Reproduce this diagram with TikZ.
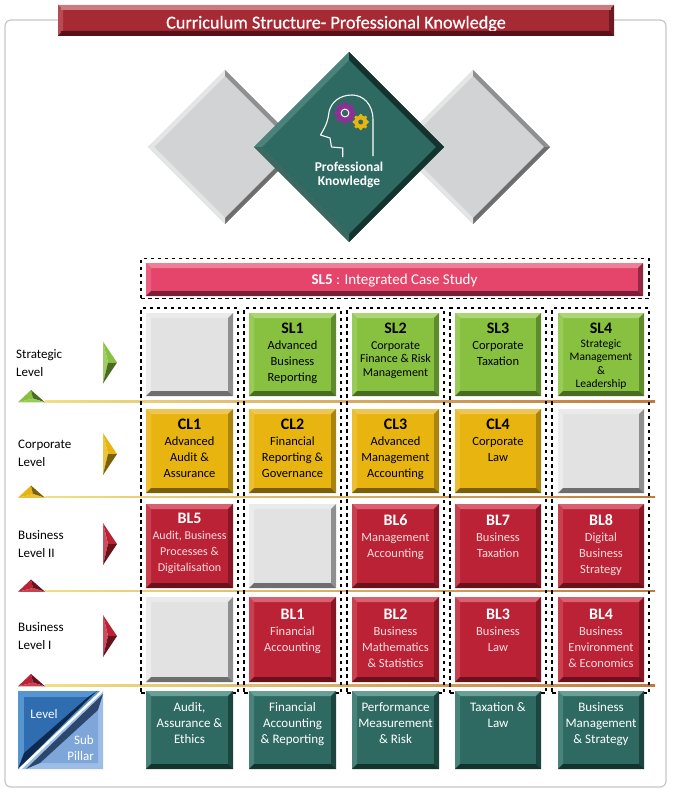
\documentclass[tikz,border=0pt]{standalone}
\usepackage{fontspec}
\setmainfont{Carlito}
\definecolor{greenM}{HTML}{88C140}\definecolor{greenT}{HTML}{ABD673}\definecolor{greenL}{HTML}{98CB58}\definecolor{greenR}{HTML}{5F8A2E}\definecolor{greenB}{HTML}{4A6C22}
\definecolor{yelM}{HTML}{E8B40F}\definecolor{yelT}{HTML}{EDC655}\definecolor{yelL}{HTML}{EDBF30}\definecolor{yelR}{HTML}{A9840F}\definecolor{yelB}{HTML}{7B600B}
\definecolor{redM}{HTML}{BC2236}\definecolor{redT}{HTML}{D9606F}\definecolor{redL}{HTML}{C9414F}\definecolor{redR}{HTML}{861825}\definecolor{redB}{HTML}{6A121C}
\definecolor{grayM}{HTML}{E2E2E2}\definecolor{grayT}{HTML}{EAEAEA}\definecolor{grayL}{HTML}{ECECEC}\definecolor{grayR}{HTML}{8F8F8F}\definecolor{grayB}{HTML}{6E6E6E}
\definecolor{grayD}{HTML}{D2D3D4}\definecolor{grayE}{HTML}{E4E5E5}
\definecolor{tealM}{HTML}{2E6A62}\definecolor{tealT}{HTML}{68A098}\definecolor{tealL}{HTML}{4A8379}\definecolor{tealR}{HTML}{1D4540}\definecolor{tealB}{HTML}{14332F}
\definecolor{pinkM}{HTML}{E6456B}\definecolor{pinkT}{HTML}{EE7F97}\definecolor{pinkL}{HTML}{EA5F80}\definecolor{pinkR}{HTML}{8F2A42}\definecolor{pinkB}{HTML}{7A2036}
\definecolor{titleM}{HTML}{A62A34}\definecolor{titleT}{HTML}{CB7A80}\definecolor{titleL}{HTML}{B84A54}\definecolor{titleR}{HTML}{6E1A22}\definecolor{titleB}{HTML}{561218}
\definecolor{soft}{HTML}{F6DEDE}
\definecolor{lineY}{HTML}{F0DF85}\definecolor{lineM}{HTML}{E8CC62}\definecolor{lineO}{HTML}{C07A3C}
\definecolor{blA}{HTML}{2F6CB0}\definecolor{blB}{HTML}{5595D0}\definecolor{blC}{HTML}{0F2A50}\definecolor{blD}{HTML}{7FA6D8}\definecolor{blE}{HTML}{9DBDE6}\definecolor{blF}{HTML}{2C476E}
\definecolor{purp}{HTML}{8E2F96}
\tikzset{
  boxnode/.style={rectangle,inner sep=0pt,outer sep=0pt,draw=none},
  dashbox/.style={rectangle,inner sep=0pt,outer sep=0pt,draw=black,line width=1.1pt,dash pattern=on 3.5pt off 3.5pt},
  rowlabel/.style={anchor=west,inner sep=0pt,align=left,font=\fontsize{13}{18}\selectfont,text=black},
}
% name, x0,y0,x1,y1, colour, first baseline offset, content
\newcommand{\bbox}[8]{%
  \pgfmathsetmacro{\bw}{#4-#2}\pgfmathsetmacro{\bh}{#5-#3}%
  \node[boxnode,fill=#6M] (#1) at ({(#2+#4)/2},{(#3+#5)/2})
    {\parbox[c][\bh pt][t]{\bw pt}{\centering\rule{0pt}{#7pt}#8\par}};
  \fill[#6T] (#2,#3)--(#4,#3)--({#4-5},{#3+5})--({#2+5},{#3+5})--cycle;
  \fill[#6L] (#2,#3)--({#2+5},{#3+5})--({#2+5},{#5-5})--(#2,#5)--cycle;
  \fill[#6R] (#4,#3)--(#4,#5)--({#4-5},{#5-5})--({#4-5},{#3+5})--cycle;
  \fill[#6B] (#2,#5)--(#4,#5)--({#4-5},{#5-5})--({#2+5},{#5-5})--cycle;
}
% name, cx, cy, half diagonal, bevel, colours
\newcommand{\dia}[9]{%
  \node[boxnode] (#1) at (#2,#3) {};
  \fill[#6] (#2,{#3-#4})--({#2+#4},#3)--(#2,{#3+#4})--({#2-#4},#3)--cycle;
  \fill[#7] ({#2-#4},#3)--(#2,{#3-#4})--(#2,{#3-#4+#5})--({#2-#4+#5},#3)--cycle;
  \fill[#8] (#2,{#3-#4})--({#2+#4},#3)--({#2+#4-#5},#3)--(#2,{#3-#4+#5})--cycle;
  \fill[#9] ({#2+#4},#3)--(#2,{#3+#4})--(#2,{#3+#4-#5})--({#2+#4-#5},#3)--cycle;
}
\newcommand{\gear}[5]{%
  \fill[#4] (#1,#2) circle[radius=#3pt];
  \foreach \ga in {0,45,...,315}{\fill[#4] (#1,#2) ++(\ga:#3pt) circle[radius=#3*0.3pt];}
  \fill[#5] (#1,#2) circle[radius=#3*0.52pt];
  \fill[tealM] (#1,#2) circle[radius=#3*0.38pt];
}
% name, y, light, dark
\newcommand{\levelmark}[4]{%
  \coordinate (#1a) at (45,#2); \coordinate (#1b) at (655,#2);
  \shade[left color=lineY, middle color=lineM, right color=lineO] ([yshift=.7pt]#1a) rectangle ([yshift=-.7pt]#1b);
  \fill[#3] (18,{#2+.8})--(31,{#2-11.5})--(33,{#2-3})--cycle;
  \fill[#4] (31,{#2-11.5})--(45,{#2+.8})--(33,{#2-3})--cycle;
  \fill[#3!85!white] (18,{#2+.8})--(33,{#2-3})--(45,{#2+.8})--cycle;
}
\newcommand{\levelarrow}[4]{%
  \fill[#3] (103,{#2-21})--(117,#2)--(108,#2)--cycle;
  \fill[#3!80!white] (103,{#2-21})--(108,#2)--(103,{#2+21})--cycle;
  \fill[#4] (117,#2)--(103,{#2+21})--(108,#2)--cycle;
  \coordinate (#1) at (103,#2);
}
\newcommand{\fa}{\fontsize{12.5}{16}\selectfont}
\newcommand{\cd}[1]{{\fontsize{16}{16}\selectfont\bfseries #1}}
\begin{document}
\begin{tikzpicture}[x=1pt,y=-1pt]
\useasboundingbox (0,0) rectangle (672,789);
\fill[white] (0,0) rectangle (672,789);
\draw[black!22,line width=1.2pt,rounded corners=6pt] (5,20) rectangle (666,787);

% title
\bbox{title}{58}{5}{614}{36}{title}{23.5}{\fontsize{18.2}{20}\selectfont\color{white}\addfontfeature{FakeBold=0.6}Curriculum Structure- Professional Knowledge}
\fill[titleT] (61,5) rectangle (611,10.5);
\fill[titleB] (61,31) rectangle (611,36);

% diamonds
\dia{dl}{225}{147}{77}{6}{grayD}{grayE}{grayR}{grayB}
\fill[grayE] (148,147)--(225,224)--(225,218)--(154,147)--cycle;
\dia{dr}{473}{147}{77}{6}{grayD}{grayE}{grayR}{grayB}
\fill[grayE] (396,147)--(473,224)--(473,218)--(402,147)--cycle;
\dia{dc}{349}{147}{95}{8}{tealM}{tealL}{tealB}{tealB}
\fill[tealL!80!black] (254,147)--(349,242)--(349,234)--(262,147)--cycle;

% head icon
\draw[white,line width=1.1pt,line join=round] (373,156)--(373,120) .. controls (373,104) and (363,95) .. (352,95) .. controls (340,95) and (331,102) .. (329,112) .. controls (328,120) and (327,124) .. (320.5,135)--(330,138)--(331.5,147)--(342.7,148)--(342.7,157);
\gear{345}{113}{8.5}{purp}{white}
\gear{360.7}{122}{6.5}{yelM}{yelM}
\node[inner sep=0pt,align=center,text=white,font=\fontsize{13.5}{14}\selectfont\bfseries] (pk) at (349,175) {Professional\\Knowledge};

% integrated case study
\node[dashbox,minimum width=508pt,minimum height=40pt] (dsl5) at (395,278.5) {};
\bbox{sl5}{146}{263}{643}{296}{pink}{21.5}{\fontsize{15}{16}\selectfont\color{white}\textbf{SL5} : Integrated Case Study}

% level lines
\levelmark{la}{401.5}{greenM}{greenB}
\levelmark{lb}{497}{yelM}{yelB}
\levelmark{lc}{591}{redM}{redB}
\levelmark{ld}{685.5}{redM}{redB}

% dashed columns
\node[dashbox,minimum width=97pt,minimum height=385pt] (c1) at (189.5,500.5) {};
\node[dashbox,minimum width=97pt,minimum height=385pt] (c2) at (292.5,500.5) {};
\node[dashbox,minimum width=97pt,minimum height=385pt] (c3) at (395.5,500.5) {};
\node[dashbox,minimum width=96pt,minimum height=385pt] (c4) at (498,500.5) {};
\node[dashbox,minimum width=97pt,minimum height=385pt] (c5) at (600.5,500.5) {};

% level labels and arrows
\node[rowlabel] (t1) at (16,363) {Strategic\\Level};
\node[rowlabel] (t2) at (18,453) {Corporate\\Level};
\node[rowlabel] (t3) at (18,544) {Business\\Level II};
\node[rowlabel] (t4) at (18,636) {Business\\Level I};
\levelarrow{a1}{362.5}{greenM}{greenB}
\levelarrow{a2}{454}{yelM}{yelB}
\levelarrow{a3}{544}{redM}{redB}
\levelarrow{a4}{636}{redM}{redB}

% strategic
\bbox{e1}{146}{313}{233}{396}{gray}{20}{}
\bbox{sl1}{249}{313}{336}{396}{green}{20}{\fa\cd{SL1}\\Advanced\\Business\\Reporting}
\bbox{sl2}{352}{313}{439}{396}{green}{20}{\fontsize{12}{13.7}\selectfont\cd{SL2}\\[2.5pt]Corporate\\Finance \& Risk\\Management}
\bbox{sl3}{455}{313}{541}{396}{green}{20}{\fa\cd{SL3}\\Corporate\\Taxation}
\bbox{sl4}{558}{313}{644}{396}{green}{20}{\fontsize{11.5}{13.2}\selectfont\cd{SL4}\\[1.5pt]Strategic\\Management\\\&\\Leadership}
% corporate
\bbox{cl1}{146}{409}{233}{493}{yel}{20}{\fa\cd{CL1}\\Advanced\\Audit \&\\Assurance}
\bbox{cl2}{249}{409}{336}{493}{yel}{20}{\fa\cd{CL2}\\Financial\\Reporting \&\\Governance}
\bbox{cl3}{352}{409}{439}{493}{yel}{20}{\fa\cd{CL3}\\Advanced\\Management\\Accounting}
\bbox{cl4}{455}{409}{541}{493}{yel}{20}{\fa\cd{CL4}\\Corporate\\Law}
\bbox{e2}{558}{409}{644}{493}{gray}{20}{}
% business II
\bbox{bl5}{146}{504}{233}{588}{red}{19}{\fontsize{12}{16}\selectfont\color{soft}\cd{\color{white}BL5}\\Audit, Business\\Processes \&\\Digitalisation}
\bbox{e3}{249}{504}{336}{588}{gray}{20}{}
\bbox{bl6}{352}{504}{439}{588}{red}{21.5}{\fa\color{soft}\cd{\color{white}BL6}\\Management\\Accounting}
\bbox{bl7}{455}{504}{541}{588}{red}{21.5}{\fa\color{soft}\cd{\color{white}BL7}\\Business\\Taxation}
\bbox{bl8}{558}{504}{644}{588}{red}{21.5}{\fa\color{soft}\cd{\color{white}BL8}\\Digital\\Business\\Strategy}
% business I
\bbox{e4}{146}{597}{233}{682}{gray}{20}{}
\bbox{bl1}{249}{597}{336}{682}{red}{22.5}{\fa\color{soft}\cd{\color{white}BL1}\\Financial\\Accounting}
\bbox{bl2}{352}{597}{439}{682}{red}{22.5}{\fa\color{soft}\cd{\color{white}BL2}\\Business\\Mathematics\\\& Statistics}
\bbox{bl3}{455}{597}{541}{682}{red}{22.5}{\fa\color{soft}\cd{\color{white}BL3}\\Business\\Law}
\bbox{bl4}{558}{597}{644}{682}{red}{22.5}{\fa\color{soft}\cd{\color{white}BL4}\\Business\\Environment\\\& Economics}
% pillars
\newcommand{\fp}{\fontsize{13}{16}\selectfont\color{white}}
\bbox{p1}{146}{691}{233}{769}{teal}{20}{\fp Audit,\\Assurance \&\\Ethics}
\bbox{p2}{249}{691}{336}{769}{teal}{20}{\fp Financial\\Accounting\\\& Reporting}
\bbox{p3}{352}{691}{439}{769}{teal}{20}{\fp Performance\\Measurement\\\& Risk}
\bbox{p4}{455}{691}{541}{769}{teal}{20}{\fp Taxation \&\\Law}
\bbox{p5}{558}{691}{644}{769}{teal}{20}{\fp Business\\Management\\\& Strategy}

% legend
\fill[blB] (18,691)--(103,691)--(18,769)--cycle;
\fill[blA] (24,697)--(88,697)--(24,753)--cycle;
\fill[blC] (18,769)--(24,753)--(88,697)--(97,691)--cycle;
\fill[blE] (103,691)--(103,769)--(18,769)--cycle;
\fill[blD] (98,710)--(98,763)--(40,763)--cycle;
\fill[blF] (103,694)--(98,710)--(40,763)--(26,769)--cycle;
\draw[white,line width=2.4pt] (20,769)--(102,691);
\node[inner sep=0pt,text=white,font=\fontsize{13}{16}\selectfont] (lv) at (44,714) {Level};
\node[inner sep=0pt,align=right,anchor=east,text=white,font=\fontsize{13}{16}\selectfont] (sp) at (94,748) {Sub\\Pillar};
\end{tikzpicture}
\end{document}
